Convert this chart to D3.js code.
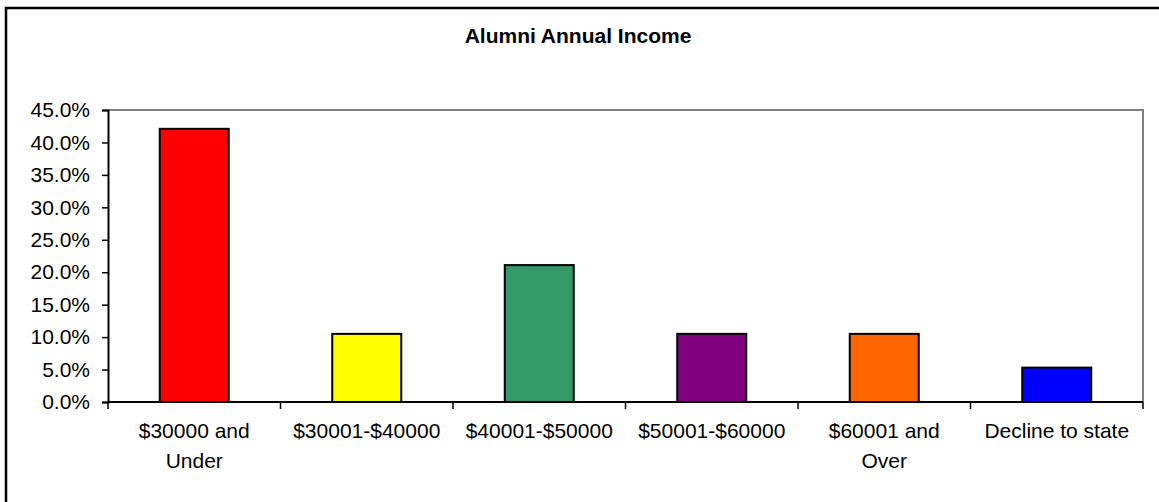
<!DOCTYPE html>
<html>
<head>
<meta charset="utf-8">
<script src="https://cdn.jsdelivr.net/npm/d3@7"></script>
<style>
  html, body { margin: 0; padding: 0; background: #fff; }
  svg { display: block; font-family: Arial, "Liberation Sans", sans-serif; }
</style>
</head>
<body>
<svg id="chart" width="1159" height="502"></svg>
<script>
// Income brackets and share of alumni in each
const categories = ["$30000 and|Under", "$30001-$40000", "$40001-$50000", "$50001-$60000", "$60001 and|Over", "Decline to state"];
const shares = [42.1, 10.5, 21.1, 10.5, 10.5, 5.3];
const barColors = ["#FF0000", "#FFFF00", "#339966", "#800080", "#FF6600", "#0000FF"];
const yTicks = [0, 5, 10, 15, 20, 25, 30, 35, 40, 45];
const titleText = "Alumni Annual Income";

const svg = d3.select("#chart");
const W = 1159, H = 502;
const plot = { left: 108, right: 1143, top: 110, bottom: 402 };

// outer chart frame (runs past the right and bottom edges)
svg.append("rect")
  .attr("x", 6).attr("y", 8)
  .attr("width", W + 20).attr("height", H + 20)
  .attr("fill", "#fff").attr("stroke", "#000").attr("stroke-width", 2.5);

svg.append("text")
  .attr("x", 578).attr("y", 43)
  .attr("text-anchor", "middle")
  .attr("font-size", 21).attr("font-weight", "bold")
  .text(titleText);

const x = d3.scaleBand()
  .domain(categories)
  .range([plot.left, plot.right])
  .paddingInner(0).paddingOuter(0);

const y = d3.scaleLinear().domain([0, 45]).range([plot.bottom, plot.top]);

// plot frame: grey top and right edges
svg.append("path")
  .attr("d", `M${plot.left},${plot.top}H${plot.right}V${plot.bottom}`)
  .attr("fill", "none").attr("stroke", "#808080").attr("stroke-width", 2);

// bars, 40% of each category slot
const barW = x.bandwidth() * 0.4;
svg.append("g").selectAll("rect")
  .data(shares)
  .join("rect")
  .attr("x", (d, i) => x(categories[i]) + (x.bandwidth() - barW) / 2)
  .attr("y", d => y(d))
  .attr("width", barW)
  .attr("height", d => y(0) - y(d))
  .attr("fill", (d, i) => barColors[i])
  .attr("stroke", "#000").attr("stroke-width", 2);

// y axis
const yAxis = d3.axisLeft(y)
  .tickValues(yTicks)
  .tickFormat(d => d.toFixed(1) + "%")
  .tickSize(6).tickPadding(12);
const gy = svg.append("g")
  .attr("transform", `translate(${plot.left},0)`)
  .call(yAxis);
gy.select(".domain").attr("stroke", "#000").attr("stroke-width", 2);
gy.selectAll(".tick line").attr("stroke", "#000").attr("stroke-width", 1.5);
gy.selectAll(".tick text")
  .attr("font-size", 21).attr("fill", "#000")
  .attr("font-family", "Arial, 'Liberation Sans', sans-serif");

// x axis: ticks sit on category boundaries
const gx = svg.append("g")
  .attr("transform", `translate(0,${plot.bottom})`);
gx.append("line")
  .attr("x1", plot.left).attr("x2", plot.right)
  .attr("stroke", "#000").attr("stroke-width", 2);
const bounds = categories.map(c => x(c)).concat([plot.right]);
gx.selectAll(".bt")
  .data(bounds)
  .join("line")
  .attr("class", "bt")
  .attr("x1", d => d).attr("x2", d => d)
  .attr("y1", 0).attr("y2", 7)
  .attr("stroke", "#000").attr("stroke-width", 1.5);

const labels = gx.selectAll(".xl")
  .data(categories)
  .join("text")
  .attr("class", "xl")
  .attr("text-anchor", "middle")
  .attr("font-size", 21)
  .attr("fill", "#000");
labels.each(function (c) {
  const lines = c.split("|");
  const t = d3.select(this);
  lines.forEach((ln, k) => {
    t.append("tspan")
      .attr("x", x(c) + x.bandwidth() / 2)
      .attr("y", 36 + k * 30)
      .text(ln);
  });
});
</script>
</body>
</html>
